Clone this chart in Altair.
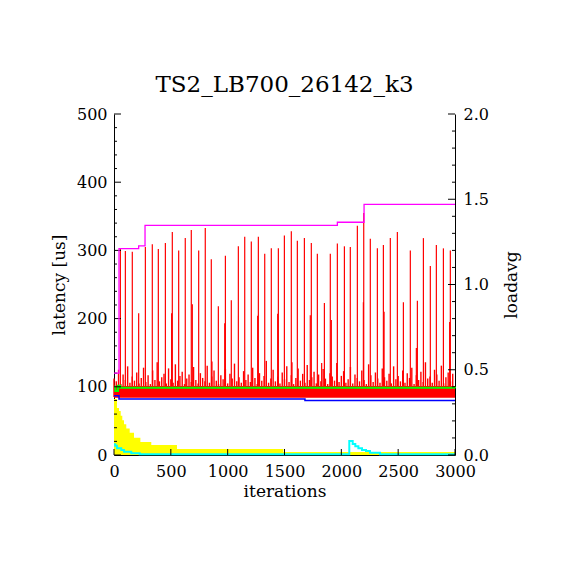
import altair as alt
import pandas as pd

# ---------------- data ----------------
# tall red latency spikes (iteration, latency us)
spike_it = [56, 100, 161, 217, 276, 337, 390, 452, 507, 513, 569, 627, 680, 689, 745,
            803, 856, 862, 918, 974, 980, 1032, 1094, 1150, 1208, 1264, 1270, 1326, 1384, 1440,
            1446, 1499, 1560, 1566, 1613, 1675, 1727, 1736, 1789, 1827, 1851, 1903, 1912, 1965, 2027,
            2079, 2141, 2194, 2197, 2255, 2317, 2370, 2376, 2431, 2493, 2546, 2607, 2660, 2669, 2722,
            2783, 2836, 2898, 2953, 2959]
spike_lat = [302, 299, 298, 208, 305, 309, 302, 311, 208, 327, 300, 318, 330, 221, 300,
             333, 287, 137, 218, 193, 292, 227, 306, 320, 313, 204, 320, 295, 303, 207,
             303, 322, 328, 136, 314, 318, 205, 311, 295, 135, 223, 295, 198, 310, 306,
             305, 336, 224, 355, 317, 303, 308, 210, 318, 327, 224, 300, 157, 226, 318,
             277, 308, 303, 195, 300]

# small red "grass" tips above the dense band, one every 20 iterations
grass_lat = [112, 108, 125, 104, 118, 110, 130, 106, 115, 109,
             121, 105, 113, 128, 107, 117, 104, 124, 110, 136,
             108, 114, 119, 105, 127, 111, 106, 133, 109, 116,
             122, 104, 112, 118, 107, 129, 110, 105, 120, 113,
             108, 131, 106, 115, 124, 109, 104, 117, 111, 126,
             105, 119, 112, 134, 108, 114, 106, 123, 110, 118,
             107, 128, 113, 104, 120, 109, 116, 138, 106, 112,
             125, 108, 115, 105, 121, 111, 130, 107, 117, 104,
             113, 127, 109, 119, 106, 132, 110, 114, 122, 105,
             118, 108, 126, 112, 104, 120, 115, 109, 135, 107,
             116, 123, 106, 111, 129, 105, 118, 113, 108, 124,
             110, 104, 133, 117, 107, 121, 112, 106, 127, 114,
             109, 119, 105, 130, 111, 116, 108, 124, 106, 120,
             113, 128, 104, 117, 110, 122, 107, 136, 112, 115,
             106, 125, 118, 109, 131, 105, 114, 121, 108, 119]
grass_it = [i * 20 for i in range(len(grass_lat))]

# dense red band (low / high latency)
band_it = [0, 3000]
band_lo = [84, 84]
band_hi = [101, 101]

# yellow decaying area
yellow_it = [0, 26, 44, 59, 73, 88, 108, 138, 176, 232, 328, 554, 1490, 3000]
yellow_v = [82, 69, 64.5, 57.6, 51, 45, 39, 32.7, 25.4, 19, 14.7, 8.8, 4.4, 4.4]

# cyan step line
cyan_it = [0, 11, 26, 64, 88, 152, 226, 2070, 2100, 2123, 2150, 2182, 2217, 2252, 2340, 3000]
cyan_v = [15.6, 13.7, 9.8, 7.3, 4.9, 2.4, 1, 20.5, 16, 13, 10, 7.3, 5.9, 3.4, 1, 1]

# blue step line
blue_it = [0, 44, 1680, 3000]
blue_v = [87, 82, 80, 80]

# green step line
green_it = [0, 12, 35, 55, 3000]
green_v = [100, 94, 101.5, 98.5, 98]

# magenta loadavg step line
mag_it = [0, 44, 217, 273, 1965, 2200, 3000]
mag_v = [0.48, 1.21, 1.226, 1.347, 1.365, 1.47, 1.47]

# axis ticks
x_major = [0, 500, 1000, 1500, 2000, 2500, 3000]
lat_major = [0, 100, 200, 300, 400, 500]
lat_minor = [v for v in range(0, 501, 20) if v % 100 != 0]
load_major = [0.0, 0.5, 1.0, 1.5, 2.0]
load_minor = [round(v * 0.1, 1) for v in range(21) if v % 5 != 0]

# ---------------- chart ----------------
FONT = "DejaVu Serif"
W = H = 341
xs = alt.Scale(domain=[0, 3000], nice=False, zero=False)
ys = alt.Scale(domain=[0, 500], nice=False)
ys2 = alt.Scale(domain=[0, 2.0], nice=False)

common = dict(ticks=False, grid=False, labelFont=FONT, labelFontSize=16, labelColor="black",
              titleFont=FONT, titleFontSize=17, titleFontWeight="normal", titleColor="black",
              domainColor="black", domainWidth=1, labelFlush=False)
xaxis = alt.Axis(values=x_major, format="d", title="iterations", orient="bottom", labelPadding=8,
                 titlePadding=4, **common)
yaxis = alt.Axis(values=lat_major, format="d", title="latency [us]", orient="left", labelPadding=7,
                 titlePadding=8, **common)
y2axis = alt.Axis(values=load_major, format=".1f", title="loadavg", orient="right",
                  labelPadding=8, titlePadding=32, titleAngle=270, **common)


def X(field):
    return alt.X(field, type="quantitative", scale=xs, axis=xaxis)


def Y(field):
    return alt.Y(field, type="quantitative", scale=ys, axis=yaxis)


def Y2(field):
    return alt.Y(field, type="quantitative", scale=ys2, axis=y2axis)


ydf = pd.DataFrame({"it": yellow_it, "v": yellow_v})
cdf = pd.DataFrame({"it": cyan_it, "v": cyan_v})
bdf = pd.DataFrame({"it": blue_it, "v": blue_v})
gdf = pd.DataFrame({"it": green_it, "v": green_v})
mdf = pd.DataFrame({"it": mag_it, "v": mag_v})
sdf = pd.DataFrame({"it": spike_it, "v": spike_lat})
grdf = pd.DataFrame({"it": grass_it, "v": grass_lat})
banddf = pd.DataFrame({"it": band_it, "v": band_lo, "hi": band_hi})

yellow = alt.Chart(ydf).mark_area(color="#ffff00", interpolate="step-after").encode(
    x=X("it"), y=Y("v"))
band = alt.Chart(banddf).mark_area(color="#ff0000").encode(
    x=X("it"), y=Y("v"), y2="hi:Q")
grass = alt.Chart(grdf).mark_rule(color="#ff0000", strokeWidth=1.4).encode(
    x=X("it"), y=Y("v"), y2=alt.datum(85))
spikes = alt.Chart(sdf).mark_rule(color="#ff0000", strokeWidth=1.2).encode(
    x=X("it"), y=Y("v"), y2=alt.datum(85))
cyan = alt.Chart(cdf).mark_line(color="#00ffff", strokeWidth=2, interpolate="step-after").encode(
    x=X("it"), y=Y("v"))
blue = alt.Chart(bdf).mark_line(color="#0000ff", strokeWidth=1.5, interpolate="step-after").encode(
    x=X("it"), y=Y("v"))
green = alt.Chart(gdf).mark_line(color="#00ff00", strokeWidth=2, interpolate="step-after").encode(
    x=X("it"), y=Y("v"))
lt_major = alt.Chart(pd.DataFrame({"v": lat_major})).mark_rule(color="black").encode(
    y=Y("v"), x=alt.value(0), x2=alt.value(7))
lt_minor = alt.Chart(pd.DataFrame({"v": lat_minor})).mark_rule(color="black").encode(
    y=Y("v"), x=alt.value(0), x2=alt.value(3))
bt_major = alt.Chart(pd.DataFrame({"it": x_major})).mark_rule(color="black").encode(
    x=X("it"), y=alt.value(H), y2=alt.value(H - 6))

left = alt.layer(yellow, band, grass, spikes, cyan, blue, green, lt_major, lt_minor, bt_major)

magenta = alt.Chart(mdf).mark_line(color="#ff00ff", strokeWidth=1.3, interpolate="step-after").encode(
    x=X("it"), y=Y2("v"))
rt_major = alt.Chart(pd.DataFrame({"v": load_major})).mark_rule(color="black").encode(
    y=Y2("v"), x=alt.value(W - 7), x2=alt.value(W))
rt_minor = alt.Chart(pd.DataFrame({"v": load_minor})).mark_rule(color="black").encode(
    y=Y2("v"), x=alt.value(W - 3), x2=alt.value(W))

right = alt.layer(magenta, rt_major, rt_minor)

chart = alt.layer(left, right).resolve_scale(y="independent").properties(
    width=W, height=H,
    title=alt.TitleParams("TS2_LB700_26142_k3", font=FONT, fontSize=23, fontWeight="normal",
                          color="black", frame="group", anchor="middle", offset=9),
    autosize=alt.AutoSizeParams(type="none"),
    padding={"left": 106, "top": 106, "right": 100, "bottom": 100},
    background="white",
).configure_view(stroke=None)

chart.save("out.html", embed_options={"renderer": "svg", "actions": False})
